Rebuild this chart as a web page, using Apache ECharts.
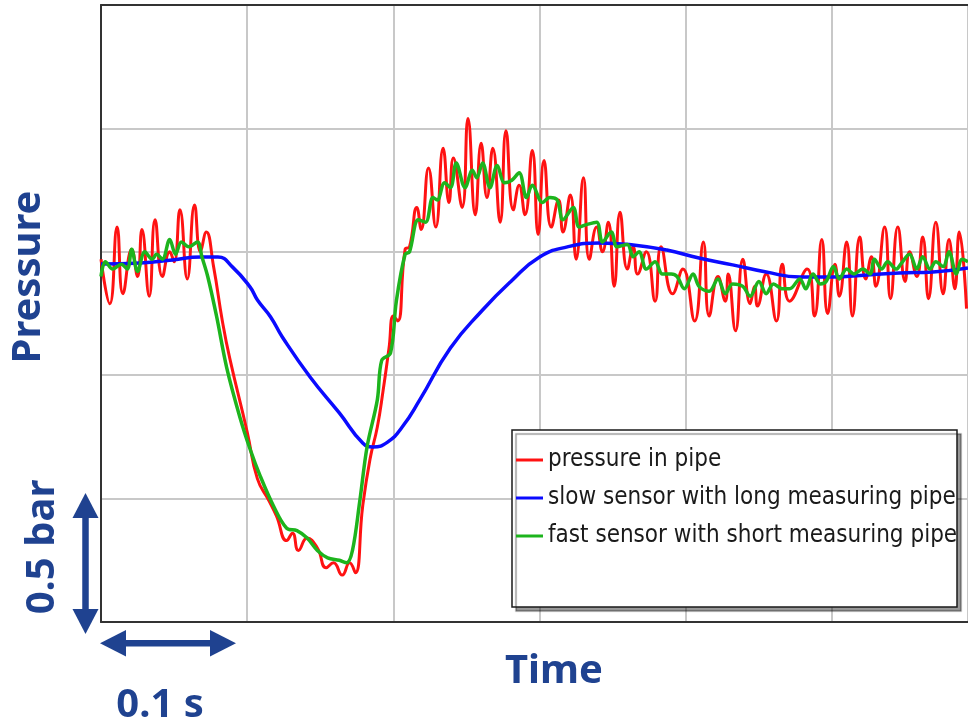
<!DOCTYPE html>
<html>
<head>
<meta charset="utf-8">
<script src="https://cdn.jsdelivr.net/npm/echarts@6/dist/echarts.min.js"></script>
<style>
html,body{margin:0;padding:0;background:#fff;}
#chart{width:968px;height:726px;}
</style>
</head>
<body>
<div id="chart"></div>
<script>
// Time in ms, pressure in bar (arbitrary offset)
const seriesNames = ['pressure in pipe', 'slow sensor with long measuring pipe', 'fast sensor with short measuring pipe'];

const pipeTime = [0,6,11,15,21,25,28,33,37,42,47,50,54,59,64,68,72,77,83,88,100,107,115,120,127,131,135,141,148,154,159,165,170,174,179,184,189,193,197,200,203,208,211,216,219,224,229,234,238,241,247,251,256,260,264,268,273,277,282,286,290,295,299,303,308,313,316,321,325,330,334,339,343,347,351,355,360,364,367,373,379,383,391,398,406,412,416,422,427,429,434,439,444,447,449,455,462,466,471,483,488,493,497,502,505,510,514,519,523,527,530,536,540,545,550,553,558,562,566,571,576,580,584,587,592];
const pipePressure = [1.47,1.29,1.60,1.33,1.51,1.40,1.59,1.32,1.63,1.40,1.50,1.46,1.67,1.39,1.69,1.50,1.58,1.44,1.22,1.07,0.77,0.58,0.49,0.43,0.33,0.36,0.29,0.34,0.30,0.22,0.24,0.19,0.24,0.20,0.47,0.66,0.79,0.94,1.11,1.24,1.22,1.51,1.52,1.68,1.59,1.84,1.60,1.92,1.70,1.88,1.68,2.04,1.65,1.94,1.72,1.92,1.62,1.99,1.67,1.77,1.65,1.91,1.57,1.87,1.60,1.71,1.58,1.73,1.47,1.80,1.47,1.60,1.50,1.62,1.36,1.66,1.43,1.52,1.41,1.50,1.30,1.52,1.33,1.43,1.22,1.54,1.24,1.40,1.30,1.41,1.18,1.47,1.29,1.36,1.28,1.41,1.22,1.45,1.30,1.43,1.24,1.55,1.25,1.45,1.32,1.54,1.24,1.56,1.39,1.48,1.36,1.60,1.31,1.60,1.38,1.50,1.40,1.56,1.31,1.62,1.33,1.55,1.35,1.58,1.27];

const slowTime = [0,27,49,68,80,90,102,107,116,124,143,163,179,186,196,206,218,239,261,280,300,319,341,364,387,409,432,455,478,500,524,546,569,593];
const slowPressure = [1.451,1.455,1.467,1.479,1.479,1.438,1.357,1.305,1.236,1.155,0.993,0.847,0.725,0.709,0.729,0.790,0.900,1.110,1.264,1.378,1.479,1.520,1.536,1.528,1.507,1.475,1.447,1.418,1.398,1.398,1.406,1.414,1.418,1.434];

const fastTime = [0,3,8,14,18,21,25,30,35,38,42,47,51,55,60,66,69,73,79,86,95,102,109,118,127,134,141,148,155,163,168,172,177,182,189,192,198,202,208,211,217,222,227,230,235,239,243,249,254,257,261,266,271,276,281,286,291,295,302,307,312,316,323,327,332,339,343,349,353,360,364,368,373,379,384,390,394,399,405,409,416,422,427,432,439,444,450,455,460,466,471,478,482,487,492,496,501,505,510,515,521,526,529,534,538,544,547,553,558,562,567,571,576,580,585,589,593];
const fastPressure = [1.40,1.46,1.43,1.45,1.43,1.51,1.42,1.50,1.47,1.49,1.47,1.55,1.49,1.54,1.52,1.54,1.48,1.40,1.24,1.03,0.83,0.70,0.59,0.47,0.38,0.37,0.34,0.29,0.26,0.25,0.24,0.29,0.49,0.71,0.90,1.06,1.09,1.30,1.49,1.50,1.63,1.62,1.72,1.71,1.78,1.76,1.86,1.76,1.83,1.80,1.86,1.76,1.85,1.78,1.79,1.82,1.72,1.77,1.70,1.72,1.71,1.63,1.68,1.60,1.61,1.62,1.54,1.58,1.52,1.53,1.48,1.50,1.43,1.46,1.41,1.41,1.40,1.35,1.41,1.36,1.34,1.39,1.33,1.37,1.36,1.32,1.38,1.33,1.37,1.35,1.35,1.39,1.35,1.41,1.37,1.38,1.44,1.39,1.43,1.41,1.43,1.41,1.47,1.43,1.46,1.43,1.45,1.49,1.43,1.48,1.43,1.46,1.44,1.50,1.41,1.47,1.46];

// visible window of the recording (the frame is cut at the right edge)
const xMin = 0, xMax = 593, xStep = 100;
const yMin = 0, yMax = 2.5, yStep = 0.5;

function zip(a, b) { return a.map((v, i) => [v, b[i]]); }

const navy = '#1f4290';
const chart = echarts.init(document.getElementById('chart'), null, {renderer: 'canvas'});

const hiddenAxisBits = {
  axisLabel: {show: false},
  axisTick: {show: false}
};

chart.setOption({
  animation: false,
  backgroundColor: '#ffffff',
  grid: {left: 101, top: 5, right: 0, height: 617, containLabel: false},
  xAxis: [{
    type: 'value', min: xMin, max: xMax, interval: xStep, position: 'bottom',
    ...hiddenAxisBits,
    axisLine: {show: true, onZero: false, lineStyle: {color: '#333', width: 2}},
    splitLine: {show: true, lineStyle: {color: '#c8c8c8', width: 2}}
  }, {
    type: 'value', min: xMin, max: xMax, interval: xStep, position: 'top',
    ...hiddenAxisBits,
    axisLine: {show: true, onZero: false, lineStyle: {color: '#333', width: 2}},
    splitLine: {show: false}
  }],
  yAxis: {
    type: 'value', min: yMin, max: yMax, interval: yStep,
    ...hiddenAxisBits,
    axisLine: {show: true, onZero: false, lineStyle: {color: '#333', width: 2}},
    splitLine: {show: true, lineStyle: {color: '#c8c8c8', width: 2}}
  },
  legend: {
    show: true,
    selectedMode: false,
    orient: 'vertical',
    left: 516, top: 447,
    padding: 0,
    itemGap: 12,
    itemWidth: 27, itemHeight: 3,
    icon: 'rect',
    z: 20,
    textStyle: {fontFamily: "'DejaVu Sans Condensed', 'DejaVu Sans', sans-serif", fontSize: 24, lineHeight: 26, color: '#1a1a1a'},
    data: seriesNames
  },
  series: [{
    name: seriesNames[0], type: 'line', data: zip(pipeTime, pipePressure),
    showSymbol: false, symbol: 'none', smooth: 0.5,
    lineStyle: {color: '#ff1212', width: 3}, itemStyle: {color: '#ff1212'}, z: 2
  }, {
    name: seriesNames[1], type: 'line', data: zip(slowTime, slowPressure),
    showSymbol: false, symbol: 'none', smooth: 0.5,
    lineStyle: {color: '#0b0bff', width: 3.5}, itemStyle: {color: '#0b0bff'}, z: 3
  }, {
    name: seriesNames[2], type: 'line', data: zip(fastTime, fastPressure),
    showSymbol: false, symbol: 'none', smooth: 0.35,
    lineStyle: {color: '#1db41d', width: 3.5}, itemStyle: {color: '#1db41d'}, z: 4
  }],
  graphic: [
    {type: 'rect', z: 10, shape: {x: 512, y: 430, width: 445, height: 177},
     style: {fill: '#fff', stroke: '#1a1a1a', lineWidth: 1.5, shadowColor: 'rgba(0,0,0,0.4)', shadowOffsetX: 4, shadowOffsetY: 4, shadowBlur: 1}},
    {type: 'text', z: 30, x: 29, y: 277, rotation: Math.PI / 2,
     style: {text: 'Pressure', fontFamily: 'Noto Sans', fontWeight: 'bold', fontSize: 40, fill: navy, align: 'center', verticalAlign: 'middle'}},
    {type: 'text', z: 30, x: 554, y: 672,
     style: {text: 'Time', fontFamily: 'Noto Sans', fontWeight: 'bold', fontSize: 40, fill: navy, align: 'center', verticalAlign: 'middle'}},
    {type: 'text', z: 30, x: 43, y: 547, rotation: Math.PI / 2,
     style: {text: '0.5 bar', fontFamily: 'Noto Sans', fontWeight: 'bold', fontSize: 40, fill: navy, align: 'center', verticalAlign: 'middle'}},
    {type: 'text', z: 30, x: 160, y: 706,
     style: {text: '0.1 s', fontFamily: 'Noto Sans', fontWeight: 'bold', fontSize: 40, fill: navy, align: 'center', verticalAlign: 'middle'}},
    // vertical double arrow
    {type: 'line', z: 30, shape: {x1: 85.5, y1: 512, x2: 85.5, y2: 615}, style: {stroke: navy, lineWidth: 6.5}},
    {type: 'polygon', z: 30, shape: {points: [[72.5, 518], [98.5, 518], [85.5, 493]]}, style: {fill: navy}},
    {type: 'polygon', z: 30, shape: {points: [[72.5, 609], [98.5, 609], [85.5, 634]]}, style: {fill: navy}},
    // horizontal double arrow
    {type: 'line', z: 30, shape: {x1: 120, y1: 643.3, x2: 216, y2: 643.3}, style: {stroke: navy, lineWidth: 6.5}},
    {type: 'polygon', z: 30, shape: {points: [[126, 630], [126, 656.5], [100, 643.3]]}, style: {fill: navy}},
    {type: 'polygon', z: 30, shape: {points: [[210, 630], [210, 656.5], [236, 643.3]]}, style: {fill: navy}}
  ]
});
</script>
</body>
</html>
